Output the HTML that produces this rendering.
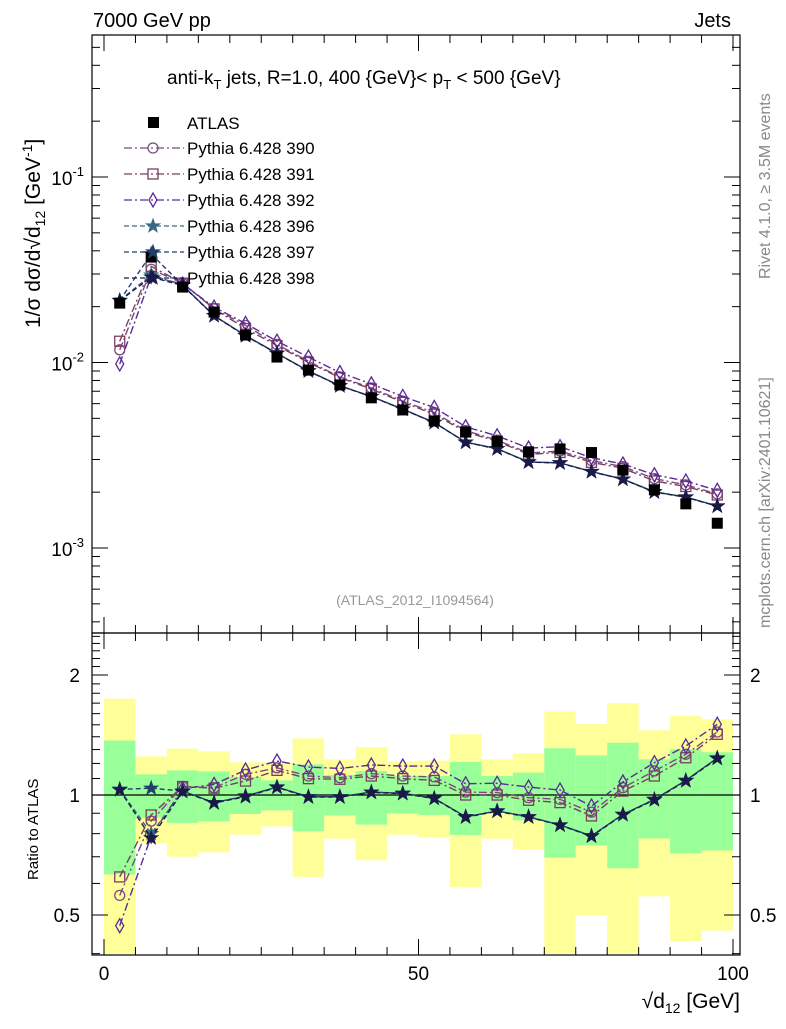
<!DOCTYPE html>
<html><head><meta charset="utf-8"><style>
body{margin:0;background:#fff;width:786px;height:1024px;overflow:hidden;font-family:"Liberation Sans",sans-serif}
svg text{font-family:"Liberation Sans",sans-serif}
</style></head><body>
<svg id="c" width="786" height="1024" xmlns="http://www.w3.org/2000/svg"></svg>
<script>
const binLo=[0,5,10,15,20,25,30,35,40,45,50,55,60,65,70,75,80,85,90,95];
const atlas=[0.0209,0.037,0.0255,0.0187,0.01406,0.0107,0.0091,0.00757,0.00645,0.00555,0.00484,0.00422,0.00376,0.0033,0.00342,0.00327,0.00263,0.00206,0.00173,0.00136];
const r390=[0.56,0.86,1.05,1.043,1.127,1.17,1.116,1.105,1.131,1.116,1.11,1.017,1.014,0.985,0.975,0.906,1.043,1.149,1.265,1.439];
const r391=[0.623,0.891,1.05,1.04,1.084,1.153,1.099,1.095,1.116,1.099,1.088,1.0,1.0,0.97,0.957,0.886,1.023,1.116,1.24,1.42];
const r392=[0.47,0.789,1.037,1.063,1.155,1.217,1.175,1.166,1.189,1.182,1.182,1.067,1.07,1.047,1.029,0.938,1.078,1.205,1.327,1.504];
const r396=[1.033,0.8,1.023,0.957,0.994,1.047,0.99,0.99,1.017,1.01,0.981,0.882,0.912,0.882,0.841,0.79,0.894,0.975,1.088,1.238];
const r397=[1.033,1.04,1.023,0.957,0.994,1.047,0.99,0.99,1.017,1.01,0.981,0.882,0.912,0.882,0.841,0.79,0.894,0.975,1.088,1.238];
const r398=[1.03,0.78,1.02,0.955,0.99,1.045,0.988,0.988,1.015,1.008,0.98,0.88,0.91,0.88,0.84,0.788,0.892,0.972,1.085,1.235];
const yelHi=[1.745,1.25,1.307,1.287,1.208,1.208,1.387,1.229,1.319,1.215,1.22,1.42,1.229,1.272,1.62,1.507,1.70,1.453,1.58,1.548];
const grnHi=[1.37,1.127,1.153,1.146,1.11,1.088,1.194,1.122,1.149,1.116,1.116,1.21,1.116,1.138,1.31,1.257,1.353,1.229,1.302,1.28];
const grnLo=[0.632,0.877,0.851,0.859,0.896,0.915,0.811,0.889,0.843,0.899,0.891,0.794,0.903,0.864,0.696,0.748,0.655,0.778,0.714,0.726];
const yelLo=[0.40,0.758,0.70,0.718,0.795,0.834,0.623,0.777,0.686,0.795,0.783,0.588,0.777,0.73,0.40,0.5,0.40,0.557,0.43,0.457];
const mainTicks=[-1,-2,-3];
const ratioTicks=[0.5,1,2];
const xTicks=[0,50,100];

const S=document.getElementById('c');const NS='http://www.w3.org/2000/svg';
function el(t,a,p){const e=document.createElementNS(NS,t);for(const k in a)e.setAttribute(k,a[k]);(p||S).appendChild(e);return e;}
const L=92,R=740,T=35,M=633,B=955;
const X=v=>104+v*6.29;
const Y=v=>177+(-1-Math.log10(v))*185.5;
const YR=v=>795-Math.log2(v)*120;
const rTop=Math.pow(2,(795-M)/120), rBot=Math.pow(2,(795-B)/120);
const cl=(v,a,b)=>Math.max(b,Math.min(a,v));
binLo.forEach((lo,i)=>{
 const y=el('rect',{x:X(lo),width:X(lo+5)-X(lo),y:YR(cl(yelHi[i],rTop,rBot)),height:YR(cl(yelLo[i],rTop,rBot))-YR(cl(yelHi[i],rTop,rBot)),fill:'#ffff99'});
 
 
 const g=el('rect',{x:X(lo),width:X(lo+5)-X(lo),y:YR(grnHi[i]),height:YR(grnLo[i])-YR(grnHi[i]),fill:'#99ff99'});
 
 
});
el('line',{x1:L,x2:R,y1:YR(1),y2:YR(1),stroke:'#000','stroke-width':1.2});
el('rect',{x:L,y:T,width:R-L,height:M-T,fill:'none',stroke:'#000','stroke-width':1.2});
el('rect',{x:L,y:M,width:R-L,height:B-M,fill:'none',stroke:'#000','stroke-width':1.2});
for(let d=-4;d<=0;d++)for(let m=1;m<10;m++){const v=m*Math.pow(10,d);const y=Y(v);if(y<T||y>M)continue;const len=m==1?16:8;
 el('line',{x1:L,x2:L+len,y1:y,y2:y,stroke:'#000'});el('line',{x1:R,x2:R-len,y1:y,y2:y,stroke:'#000'});}
mainTicks.forEach(e=>{const t=el('text',{x:84,y:Y(Math.pow(10,e))+8,'font-size':19,'text-anchor':'end'});t.innerHTML='10<tspan dy="-9" font-size="13">'+e+'</tspan>';
 
 });
for(let v=0.4;v<=2.6;v+=0.1){const y=YR(v);if(y<M||y>B)continue;const big=Math.abs(v-0.5)<1e-6||Math.abs(v-1)<1e-6||Math.abs(v-2)<1e-6;const len=big?16:8;
 el('line',{x1:L,x2:L+len,y1:y,y2:y,stroke:'#000'});el('line',{x1:R,x2:R-len,y1:y,y2:y,stroke:'#000'});}
ratioTicks.forEach(v=>{const a=el('text',{x:80,y:YR(v)+7,'font-size':19,'text-anchor':'end'});a.textContent=String(v);
 
 
 const b=el('text',{x:750,y:YR(v)+7,'font-size':19});b.textContent=String(v);
 
 });
for(let v=0;v<=100;v+=5){const big=v%50==0;const len=big?16:8;
 [[T,1],[M,-1],[M,1],[B,-1]].forEach(([y0,s])=>el('line',{x1:X(v),x2:X(v),y1:y0,y2:y0+s*len,stroke:'#000'}));}
xTicks.forEach(v=>{const t=el('text',{x:X(v),y:980,'font-size':19,'text-anchor':'middle'});t.textContent=String(v);
 
 });
const series=[
 {n:'390',r:r390,c:'#7a4a80',d:'8,3,2,3',m:'circle'},
 {n:'391',r:r391,c:'#7a3f5e',d:'8,3,2,3',m:'square'},
 {n:'392',r:r392,c:'#5b2a96',d:'8,3,2,3',m:'diamond'},
 {n:'396',r:r396,c:'#3a6a80',d:'5,3',m:'star'},
 {n:'397',r:r397,c:'#203e6a',d:'5,3',m:'star'},
 {n:'398',r:r398,c:'#1a1a48',d:'5,3',m:'star'}];
function marker(m,x,y,c,g){
 if(m=='circle')return el('circle',{cx:x,cy:y,r:5,fill:'none',stroke:c,'stroke-width':1.3},g);
 if(m=='square')return el('rect',{x:x-5,y:y-5,width:10,height:10,fill:'none',stroke:c,'stroke-width':1.3},g);
 if(m=='diamond')return el('polygon',{points:`${x},${y-7} ${x+4},${y} ${x},${y+7} ${x-4},${y}`,fill:'none',stroke:c,'stroke-width':1.3},g);
 let p='';for(let k=0;k<10;k++){const a=Math.PI/5*k-Math.PI/2;const rr=k%2?2.8:7;p+=(x+rr*Math.cos(a))+','+(y+rr*Math.sin(a))+' ';}
 return el('polygon',{points:p,fill:c,stroke:c},g);}
series.forEach(s=>{
 const g=el('g',{});
 const mv=atlas.map((a,i)=>a*s.r[i]);
 el('polyline',{points:binLo.map((lo,i)=>X(lo+2.5)+','+Y(mv[i])).join(' '),fill:'none',stroke:s.c,'stroke-width':1.4,'stroke-dasharray':s.d},g);
 mv.forEach((v,i)=>marker(s.m,X(binLo[i]+2.5),Y(v),s.c,g));
 el('polyline',{points:binLo.map((lo,i)=>X(lo+2.5)+','+YR(cl(s.r[i],rTop,rBot))).join(' '),fill:'none',stroke:s.c,'stroke-width':1.4,'stroke-dasharray':s.d},g);
 s.r.forEach((v,i)=>marker(s.m,X(binLo[i]+2.5),YR(v),s.c,g));
});
atlas.forEach((v,i)=>{const r=el('rect',{x:X(binLo[i]+2.5)-5.5,y:Y(v)-5.5,width:11,height:11,fill:'#000'});
 
 });
const lg=el('g',{});
el('rect',{x:148,y:117,width:11,height:11,fill:'#000'},lg);
let t=el('text',{x:187,y:129,'font-size':17},lg);t.textContent='ATLAS';
series.forEach((s,k)=>{const y=154+k*26;el('line',{x1:124,x2:184,y1:y-6,y2:y-6,stroke:s.c,'stroke-width':1.3,'stroke-dasharray':s.d},lg);
 marker(s.m,153,y-6,s.c,lg);const tt=el('text',{x:187,y:y,'font-size':17},lg);tt.textContent='Pythia 6.428 '+s.n;});
function txt(x,y,s,html,attrs,name){const e=el('text',Object.assign({x:x,y:y,'font-size':s},attrs||{}));e.innerHTML=html;return e;}
txt(93,27,20,'7000 GeV pp',{},'header-left');
txt(731,27,20,'Jets',{'text-anchor':'end'},'header-right');
txt(167,84,19,'anti-k<tspan dy="5" font-size="13">T</tspan><tspan dy="-5"> jets, R=1.0, 400 {GeV}&lt; p</tspan><tspan dy="5" font-size="13">T</tspan><tspan dy="-5"> &lt; 500 {GeV}</tspan>',{},'plot-title');
txt(415,605,14,'(ATLAS_2012_I1094564)',{'text-anchor':'middle',fill:'#999'},'analysis-label');
txt(0,0,16,'Rivet 4.1.0, ≥ 3.5M events',{transform:'translate(770,279) rotate(-90)',fill:'#888'},'rivet-label');
txt(0,0,16,'mcplots.cern.ch [arXiv:2401.10621]',{transform:'translate(770,628) rotate(-90)',fill:'#888'},'mcplots-label');
txt(0,0,21,'1/σ dσ/d√d<tspan dy="5" font-size="14">12</tspan><tspan dy="-5"> [GeV</tspan><tspan dy="-8" font-size="14">-1</tspan><tspan dy="8">]</tspan>',{transform:'translate(40,328) rotate(-90)'},'y-axis-title');
txt(0,0,15,'Ratio to ATLAS',{transform:'translate(38,880) rotate(-90)'},'ratio-axis-title');
txt(740,1008,21,'√d<tspan dy="5" font-size="14">12</tspan><tspan dy="-5"> [GeV]</tspan>',{'text-anchor':'end'},'x-axis-title');
</script>
</body></html>
